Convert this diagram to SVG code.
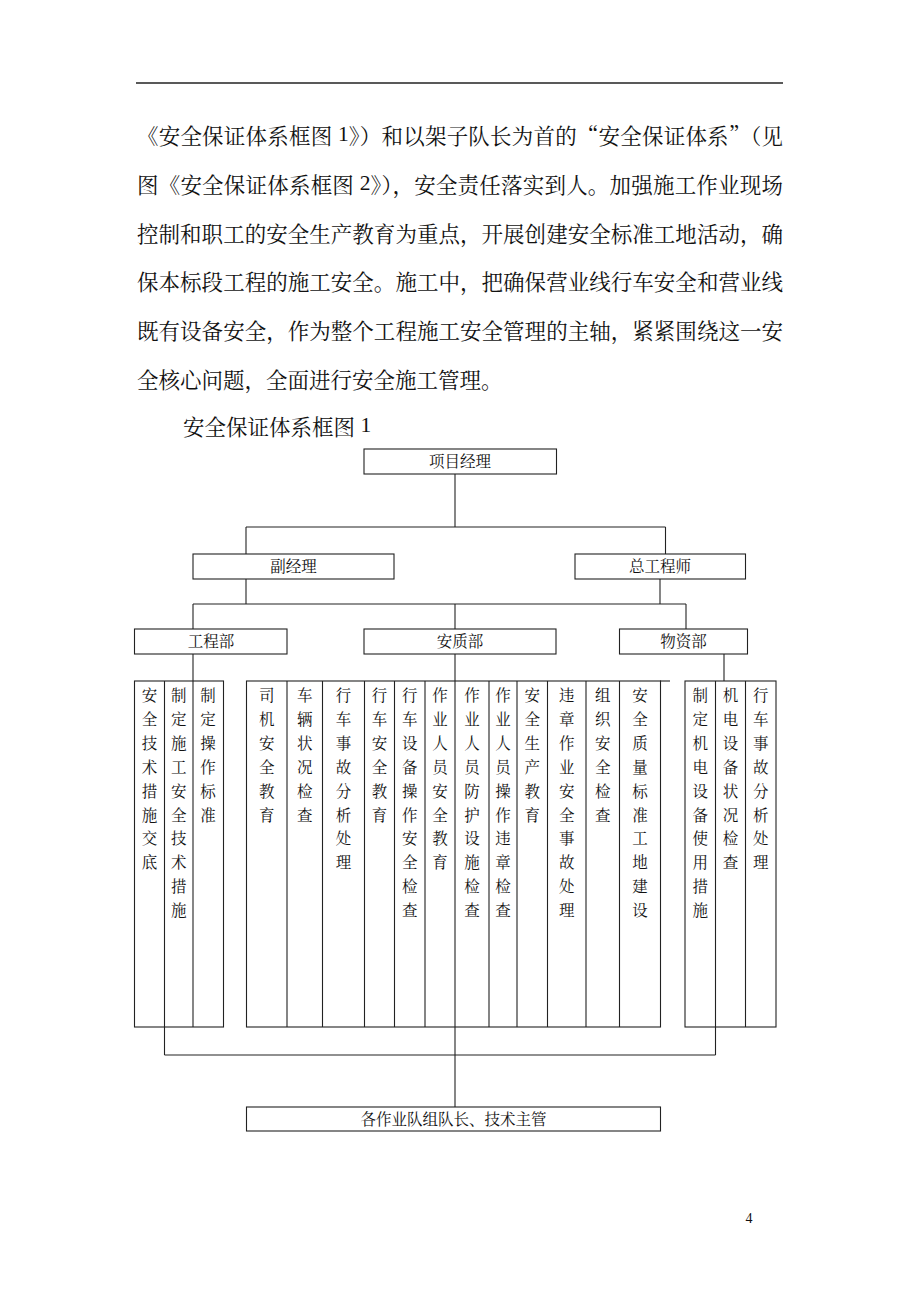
<svg xmlns="http://www.w3.org/2000/svg" width="920" height="1302" viewBox="0 0 920 1302">
<style>
.t{font-family:"Liberation Serif","Noto Serif CJK SC","Noto Sans CJK SC",serif;fill:#111;}
.cj{font-family:"Noto Serif CJK SC","Noto Sans CJK SC","Liberation Serif",serif;fill:#111;}
.d{font-family:"Liberation Serif",serif;}
.p{font-size:21.5px;}
.b{font-size:15.5px;text-anchor:middle;dominant-baseline:central;}
.c{font-size:15.5px;text-anchor:middle;dominant-baseline:central;}
.box{fill:#fff;stroke:#222;stroke-width:1.1;}
.ln{stroke:#222;stroke-width:1.1;fill:none;}
</style>
<rect width="920" height="1302" fill="#fff"/>
<line x1="136" y1="83" x2="783" y2="83" stroke="#222" stroke-width="1.6"/>
<g id="paragraph" class="cj p">
<text x="137" y="134" textLength="646" lengthAdjust="spacing" dominant-baseline="central">《安全保证体系框图<tspan class="d"> 1</tspan>》）和以架子队长为首的“安全保证体系”（见</text>
<text x="137" y="183" textLength="646" lengthAdjust="spacing" dominant-baseline="central">图《安全保证体系框图<tspan class="d"> 2</tspan>》），安全责任落实到人。加强施工作业现场</text>
<text x="137" y="232" textLength="646" lengthAdjust="spacing" dominant-baseline="central">控制和职工的安全生产教育为重点，开展创建安全标准工地活动，确</text>
<text x="137" y="280.5" textLength="646" lengthAdjust="spacing" dominant-baseline="central">保本标段工程的施工安全。施工中，把确保营业线行车安全和营业线</text>
<text x="137" y="329" textLength="646" lengthAdjust="spacing" dominant-baseline="central">既有设备安全，作为整个工程施工安全管理的主轴，紧紧围绕这一安</text>
<text x="137" y="378" dominant-baseline="central">全核心问题，全面进行安全施工管理。</text>
<text x="183" y="425" dominant-baseline="central">安全保证体系框图<tspan class="d"> 1</tspan></text>
</g>
<g id="connectors" class="ln">
<line x1="455" y1="474" x2="455" y2="527"/>
<line x1="246" y1="527" x2="665.5" y2="527"/>
<line x1="246" y1="527" x2="246" y2="554"/>
<line x1="665.5" y1="527" x2="665.5" y2="554"/>
<line x1="246" y1="579" x2="246" y2="604"/>
<line x1="660" y1="579" x2="660" y2="604"/>
<line x1="193" y1="604" x2="686" y2="604"/>
<line x1="193" y1="604" x2="193" y2="629"/>
<line x1="455" y1="604" x2="455" y2="629"/>
<line x1="686" y1="604" x2="686" y2="629"/>
<line x1="193" y1="654" x2="193" y2="681"/>
<line x1="455" y1="654" x2="455" y2="681"/>
<line x1="724" y1="654" x2="724" y2="681"/>
<line x1="660" y1="681" x2="670" y2="681"/>
<line x1="164.5" y1="1027" x2="164.5" y2="1055"/>
<line x1="715.5" y1="1027" x2="715.5" y2="1055"/>
<line x1="164.5" y1="1055" x2="715.5" y2="1055"/>
<line x1="455" y1="1027" x2="455" y2="1107"/>
</g>
<g id="n-xmjl"><rect class="box" x="364" y="449" width="192.5" height="25"/><text class="t b" x="460" y="461.5">项目经理</text></g>
<g id="n-fjl"><rect class="box" x="193" y="554" width="201" height="25"/><text class="t b" x="293.5" y="566.5">副经理</text></g>
<g id="n-zgcs"><rect class="box" x="575" y="554" width="170.5" height="25"/><text class="t b" x="660" y="566.5">总工程师</text></g>
<g id="n-gcb"><rect class="box" x="134.5" y="629" width="152.5" height="25"/><text class="t b" x="211" y="641.5">工程部</text></g>
<g id="n-azb"><rect class="box" x="364" y="629" width="192" height="25"/><text class="t b" x="460" y="641.5">安质部</text></g>
<g id="n-wzb"><rect class="box" x="619.5" y="629" width="128" height="25"/><text class="t b" x="683.5" y="641.5">物资部</text></g>
<g id="n-group1">
<rect class="box" x="134.5" y="681" width="89" height="346"/>
<line class="ln" x1="164.5" y1="681" x2="164.5" y2="1027"/>
<line class="ln" x1="193" y1="681" x2="193" y2="1027"/>
</g>
<g id="n-group2">
<rect class="box" x="246.5" y="681" width="414" height="346"/>
<path class="ln" d="M287,681V1027M322.5,681V1027M364.5,681V1027M394.5,681V1027M425,681V1027M455,681V1027M489,681V1027M517,681V1027M547.5,681V1027M586,681V1027M619.5,681V1027"/>
</g>
<g id="n-group3">
<rect class="box" x="685" y="681" width="91" height="346"/>
<line class="ln" x1="715.5" y1="681" x2="715.5" y2="1027"/>
<line class="ln" x1="745.5" y1="681" x2="745.5" y2="1027"/>
</g>
<g id="columns" class="t c">
<text><tspan x="149.5" y="695">安</tspan><tspan x="149.5" y="718.9">全</tspan><tspan x="149.5" y="742.8">技</tspan><tspan x="149.5" y="766.7">术</tspan><tspan x="149.5" y="790.6">措</tspan><tspan x="149.5" y="814.5">施</tspan><tspan x="149.5" y="838.4">交</tspan><tspan x="149.5" y="862.3">底</tspan></text>
<text><tspan x="178.8" y="695">制</tspan><tspan x="178.8" y="718.9">定</tspan><tspan x="178.8" y="742.8">施</tspan><tspan x="178.8" y="766.7">工</tspan><tspan x="178.8" y="790.6">安</tspan><tspan x="178.8" y="814.5">全</tspan><tspan x="178.8" y="838.4">技</tspan><tspan x="178.8" y="862.3">术</tspan><tspan x="178.8" y="886.2">措</tspan><tspan x="178.8" y="910.1">施</tspan></text>
<text><tspan x="208" y="695">制</tspan><tspan x="208" y="718.9">定</tspan><tspan x="208" y="742.8">操</tspan><tspan x="208" y="766.7">作</tspan><tspan x="208" y="790.6">标</tspan><tspan x="208" y="814.5">准</tspan></text>
<text><tspan x="266.8" y="695">司</tspan><tspan x="266.8" y="718.9">机</tspan><tspan x="266.8" y="742.8">安</tspan><tspan x="266.8" y="766.7">全</tspan><tspan x="266.8" y="790.6">教</tspan><tspan x="266.8" y="814.5">育</tspan></text>
<text><tspan x="304.8" y="695">车</tspan><tspan x="304.8" y="718.9">辆</tspan><tspan x="304.8" y="742.8">状</tspan><tspan x="304.8" y="766.7">况</tspan><tspan x="304.8" y="790.6">检</tspan><tspan x="304.8" y="814.5">查</tspan></text>
<text><tspan x="343.5" y="695">行</tspan><tspan x="343.5" y="718.9">车</tspan><tspan x="343.5" y="742.8">事</tspan><tspan x="343.5" y="766.7">故</tspan><tspan x="343.5" y="790.6">分</tspan><tspan x="343.5" y="814.5">析</tspan><tspan x="343.5" y="838.4">处</tspan><tspan x="343.5" y="862.3">理</tspan></text>
<text><tspan x="379.5" y="695">行</tspan><tspan x="379.5" y="718.9">车</tspan><tspan x="379.5" y="742.8">安</tspan><tspan x="379.5" y="766.7">全</tspan><tspan x="379.5" y="790.6">教</tspan><tspan x="379.5" y="814.5">育</tspan></text>
<text><tspan x="409.8" y="695">行</tspan><tspan x="409.8" y="718.9">车</tspan><tspan x="409.8" y="742.8">设</tspan><tspan x="409.8" y="766.7">备</tspan><tspan x="409.8" y="790.6">操</tspan><tspan x="409.8" y="814.5">作</tspan><tspan x="409.8" y="838.4">安</tspan><tspan x="409.8" y="862.3">全</tspan><tspan x="409.8" y="886.2">检</tspan><tspan x="409.8" y="910.1">查</tspan></text>
<text><tspan x="440" y="695">作</tspan><tspan x="440" y="718.9">业</tspan><tspan x="440" y="742.8">人</tspan><tspan x="440" y="766.7">员</tspan><tspan x="440" y="790.6">安</tspan><tspan x="440" y="814.5">全</tspan><tspan x="440" y="838.4">教</tspan><tspan x="440" y="862.3">育</tspan></text>
<text><tspan x="472" y="695">作</tspan><tspan x="472" y="718.9">业</tspan><tspan x="472" y="742.8">人</tspan><tspan x="472" y="766.7">员</tspan><tspan x="472" y="790.6">防</tspan><tspan x="472" y="814.5">护</tspan><tspan x="472" y="838.4">设</tspan><tspan x="472" y="862.3">施</tspan><tspan x="472" y="886.2">检</tspan><tspan x="472" y="910.1">查</tspan></text>
<text><tspan x="503" y="695">作</tspan><tspan x="503" y="718.9">业</tspan><tspan x="503" y="742.8">人</tspan><tspan x="503" y="766.7">员</tspan><tspan x="503" y="790.6">操</tspan><tspan x="503" y="814.5">作</tspan><tspan x="503" y="838.4">违</tspan><tspan x="503" y="862.3">章</tspan><tspan x="503" y="886.2">检</tspan><tspan x="503" y="910.1">查</tspan></text>
<text><tspan x="532.2" y="695">安</tspan><tspan x="532.2" y="718.9">全</tspan><tspan x="532.2" y="742.8">生</tspan><tspan x="532.2" y="766.7">产</tspan><tspan x="532.2" y="790.6">教</tspan><tspan x="532.2" y="814.5">育</tspan></text>
<text><tspan x="566.8" y="695">违</tspan><tspan x="566.8" y="718.9">章</tspan><tspan x="566.8" y="742.8">作</tspan><tspan x="566.8" y="766.7">业</tspan><tspan x="566.8" y="790.6">安</tspan><tspan x="566.8" y="814.5">全</tspan><tspan x="566.8" y="838.4">事</tspan><tspan x="566.8" y="862.3">故</tspan><tspan x="566.8" y="886.2">处</tspan><tspan x="566.8" y="910.1">理</tspan></text>
<text><tspan x="602.8" y="695">组</tspan><tspan x="602.8" y="718.9">织</tspan><tspan x="602.8" y="742.8">安</tspan><tspan x="602.8" y="766.7">全</tspan><tspan x="602.8" y="790.6">检</tspan><tspan x="602.8" y="814.5">查</tspan></text>
<text><tspan x="640" y="695">安</tspan><tspan x="640" y="718.9">全</tspan><tspan x="640" y="742.8">质</tspan><tspan x="640" y="766.7">量</tspan><tspan x="640" y="790.6">标</tspan><tspan x="640" y="814.5">准</tspan><tspan x="640" y="838.4">工</tspan><tspan x="640" y="862.3">地</tspan><tspan x="640" y="886.2">建</tspan><tspan x="640" y="910.1">设</tspan></text>
<text><tspan x="700.2" y="695">制</tspan><tspan x="700.2" y="718.9">定</tspan><tspan x="700.2" y="742.8">机</tspan><tspan x="700.2" y="766.7">电</tspan><tspan x="700.2" y="790.6">设</tspan><tspan x="700.2" y="814.5">备</tspan><tspan x="700.2" y="838.4">使</tspan><tspan x="700.2" y="862.3">用</tspan><tspan x="700.2" y="886.2">措</tspan><tspan x="700.2" y="910.1">施</tspan></text>
<text><tspan x="730.5" y="695">机</tspan><tspan x="730.5" y="718.9">电</tspan><tspan x="730.5" y="742.8">设</tspan><tspan x="730.5" y="766.7">备</tspan><tspan x="730.5" y="790.6">状</tspan><tspan x="730.5" y="814.5">况</tspan><tspan x="730.5" y="838.4">检</tspan><tspan x="730.5" y="862.3">查</tspan></text>
<text><tspan x="760.8" y="695">行</tspan><tspan x="760.8" y="718.9">车</tspan><tspan x="760.8" y="742.8">事</tspan><tspan x="760.8" y="766.7">故</tspan><tspan x="760.8" y="790.6">分</tspan><tspan x="760.8" y="814.5">析</tspan><tspan x="760.8" y="838.4">处</tspan><tspan x="760.8" y="862.3">理</tspan></text>
</g>
<g id="n-bottom"><rect class="box" x="246.5" y="1107" width="414" height="24"/><text class="t b" x="453.5" y="1119">各作业队组队长、技术主管</text></g>
<text class="t" x="749" y="1218" font-size="14" text-anchor="middle" dominant-baseline="central">4</text>
</svg>
